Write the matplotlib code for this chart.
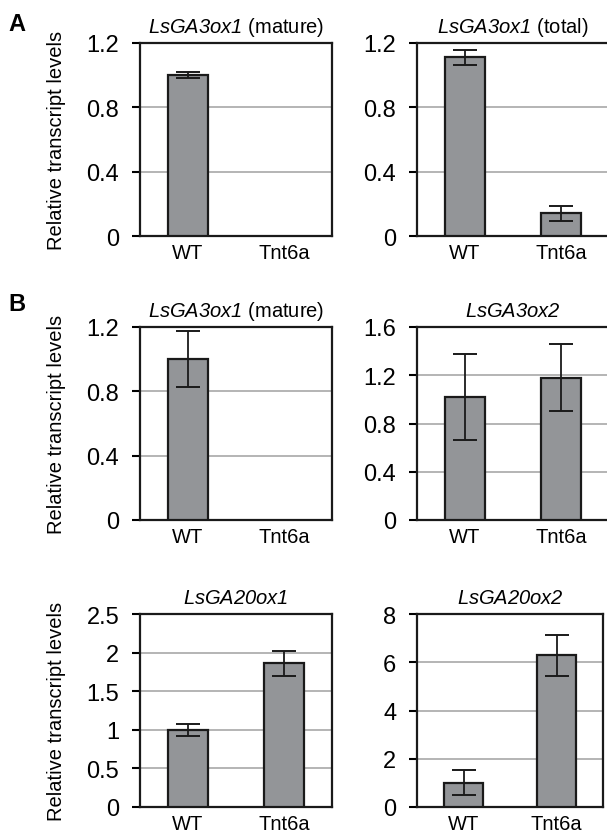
import numpy as np
import matplotlib
matplotlib.use("Agg")
import matplotlib.pyplot as plt

plt.rcParams['font.family'] = ['Liberation Sans', 'DejaVu Sans']
plt.rcParams['mathtext.fontset'] = 'custom'
# gene names are fully italic, digits included
plt.rcParams['mathtext.it'] = 'Liberation Sans:italic'
plt.rcParams['mathtext.rm'] = 'Liberation Sans:italic'

# data
genotypes = ['WT', 'Tnt6a']
genes = ['LsGA3ox1', 'LsGA3ox1', 'LsGA3ox1', 'LsGA3ox2', 'LsGA20ox1', 'LsGA20ox2']
notes = ['(mature)', '(total)', '(mature)', '', '', '']
means = [[1.00, 0.0],
         [1.11, 0.14],
         [1.00, 0.0],
         [1.02, 1.18],
         [1.00, 1.86],
         [1.00, 6.28]]
errs = [[0.02, 0.0],
        [0.045, 0.045],
        [0.175, 0.0],
        [0.36, 0.28],
        [0.075, 0.165],
        [0.52, 0.85]]
yticks = [[0, 0.4, 0.8, 1.2],
          [0, 0.4, 0.8, 1.2],
          [0, 0.4, 0.8, 1.2],
          [0, 0.4, 0.8, 1.2, 1.6],
          [0, 0.5, 1, 1.5, 2, 2.5],
          [0, 2, 4, 6, 8]]
ytick_labels = [['0', '0.4', '0.8', '1.2'],
                ['0', '0.4', '0.8', '1.2'],
                ['0', '0.4', '0.8', '1.2'],
                ['0', '0.4', '0.8', '1.2', '1.6'],
                ['0', '0.5', '1', '1.5', '2', '2.5'],
                ['0', '2', '4', '6', '8']]

W, H = 607, 837
fig = plt.figure(figsize=(W/100, H/100), dpi=100)

# axes boxes in pixels; the top two right panels run off the page edge
lefts = [140, 417]
rights = [[332, 609], [332, 609], [332, 603]]
rows = [(44, 237), (328, 521), (615, 808)]

bar_color = '#939598'
grid_color = '#a8a8a8'

for i in range(6):
    r, c = divmod(i, 2)
    x0, x1 = lefts[c], rights[r][c]
    y0, y1 = rows[r]
    ax = fig.add_axes([x0/W, 1 - y1/H, (x1-x0)/W, (y1-y0)/H])
    x = np.arange(len(genotypes))
    bars = ax.bar(x, means[i], width=0.41, color=bar_color, edgecolor='#1a1a1a',
                  linewidth=1.6, zorder=3)
    for b, v in zip(bars, means[i]):
        if v == 0:
            b.set_linewidth(0)
    ax.errorbar(x, means[i], yerr=errs[i], fmt='none', ecolor='#1a1a1a',
                elinewidth=1.3, capsize=8.5, capthick=1.4, zorder=4)
    ax.set_xlim(-0.5, 1.5)
    ax.set_ylim(yticks[i][0], yticks[i][-1])
    ax.set_yticks(yticks[i])
    ax.set_yticklabels(ytick_labels[i], fontsize=17)
    ax.set_xticks(x)
    ax.set_xticklabels(genotypes, fontsize=14.5)
    ax.tick_params(axis='x', length=0, pad=5)
    ax.tick_params(axis='y', length=6, width=1.5, pad=9, direction='out')
    ax.yaxis.grid(True, color=grid_color, linewidth=1.2, zorder=0)
    ax.set_axisbelow(True)
    for s in ax.spines.values():
        s.set_linewidth(1.6)
        s.set_color('#1a1a1a')
    if notes[i]:
        title = r'$\it{%s}$ %s' % (genes[i], notes[i])
    else:
        title = r'$\it{%s}$' % genes[i]
    ax.set_title(title, fontsize=14.5, pad=8)
    if c == 0:
        ax.set_ylabel('Relative transcript levels', fontsize=14.5)
        ax.yaxis.set_label_coords(-0.385, 0.5)

fig.text(8/W, 1 - 13/H, 'A', fontsize=17, fontweight='bold', ha='left', va='top')
fig.text(8/W, 1 - 293/H, 'B', fontsize=17, fontweight='bold', ha='left', va='top')

fig.savefig('out.png', dpi=100)
